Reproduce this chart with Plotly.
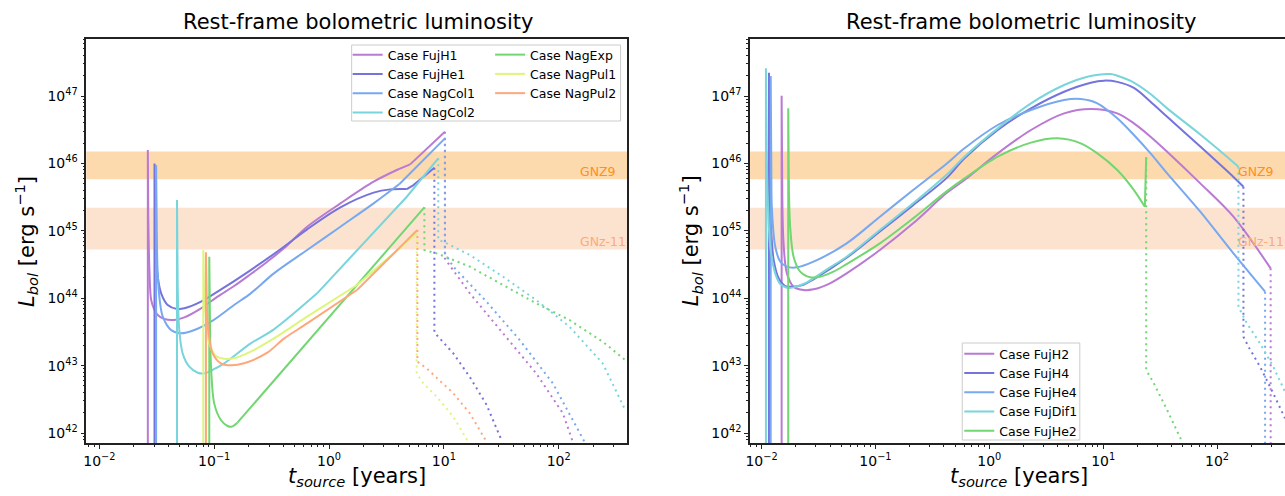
import numpy as np
import plotly.graph_objects as go

W, H = 1285, 496

# ---------------- data: log10(t_source / yr), log10(L_bol / erg s^-1) ----------------
# ---- left panel ----
FUJH1_T = [-1.578, -1.578, -1.574, -1.564, -1.549, -1.520, -1.492, -1.434, -1.347, -1.260, -1.115,
           -0.971, -0.827, -0.682, -0.538, -0.393, -0.191, 0.099, 0.388, 0.590, 0.706, 1.009]
FUJH1_L = [41.0, 46.199, 45.2, 44.418, 43.973, 43.825, 43.751, 43.691, 43.677, 43.716, 43.850,
           44.023, 44.181, 44.359, 44.542, 44.740, 45.061, 45.407, 45.729, 45.902, 45.986, 46.471]
FUJH1_DT = [1.009, 1.009, 1.038, 1.226, 1.515, 1.804, 2.036, 2.122]
FUJH1_DL = [46.471, 44.591, 44.517, 44.072, 43.479, 42.885, 42.292, 41.871]

FUJHE1_T = [-1.520, -1.520, -1.515, -1.506, -1.492, -1.462, -1.405, -1.324, -1.260, -1.115, -0.971,
            -0.682, -0.393, -0.191, 0.099, 0.388, 0.532, 0.677, 0.735, 0.917]
FUJHE1_L = [41.0, 46.0, 45.0, 44.616, 44.319, 44.072, 43.899, 43.840, 43.850, 43.949, 44.097,
            44.418, 44.764, 45.022, 45.348, 45.566, 45.615, 45.620, 45.679, 45.937]
FUJHE1_DT = [0.917, 0.917, 0.937, 1.082, 1.226, 1.371, 1.501]
FUJHE1_DL = [45.937, 43.503, 43.454, 43.182, 42.830, 42.420, 41.896]

NAGCOL1_T = [-1.506, -1.506, -1.500, -1.492, -1.471, -1.448, -1.376, -1.289, -1.173, -1.028, -0.827,
             -0.682, -0.480, -0.191, 0.099, 0.388, 0.613, 1.009]
NAGCOL1_L = [41.0, 45.976, 45.0, 44.369, 43.924, 43.726, 43.528, 43.479, 43.528, 43.652, 43.899,
             44.072, 44.369, 44.715, 45.061, 45.407, 45.694, 46.372]
NAGCOL1_DT = [1.009, 1.009, 1.082, 1.371, 1.660, 1.949, 2.224]
NAGCOL1_DL = [46.372, 44.666, 44.468, 43.949, 43.380, 42.737, 41.871]

NAGCOL2_T = [-1.324, -1.324, -1.318, -1.304, -1.275, -1.217, -1.144, -1.086, -1.028, -0.913, -0.682,
             -0.480, -0.104, 0.243, 0.677, 0.951]
NAGCOL2_L = [41.0, 45.457, 44.2, 43.528, 43.182, 42.984, 42.895, 42.885, 42.925, 43.034, 43.330,
             43.538, 44.072, 44.715, 45.506, 46.075]
NAGCOL2_DT = [0.951, 0.951, 0.995, 1.226, 1.515, 1.804, 2.093, 2.383, 2.579]
NAGCOL2_DL = [46.075, 44.864, 44.839, 44.641, 44.319, 43.973, 43.578, 43.034, 42.341]

NAGEXP_T = [-1.043, -1.043, -1.036, -1.029, -1.000, -0.942, -0.884, -0.849, -0.798, 0.830]
NAGEXP_L = [41.0, 44.616, 43.5, 43.034, 42.440, 42.193, 42.104, 42.094, 42.153, 45.348]
NAGEXP_DT = [0.830, 0.830, 0.937, 1.226, 1.515, 1.804, 2.093, 2.383, 2.579]
NAGEXP_DL = [45.348, 44.715, 44.666, 44.468, 44.196, 43.924, 43.677, 43.355, 43.083]

NAGPUL1_T = [-1.095, -1.095, -1.088, -1.072, -1.043, -0.985, -0.913, -0.827, -0.682, -0.480, -0.191,
             0.243, 0.763]
NAGPUL1_L = [41.0, 44.715, 44.0, 43.726, 43.330, 43.142, 43.103, 43.110, 43.207, 43.404, 43.726,
             44.196, 44.962]
NAGPUL1_DT = [0.763, 0.763, 0.821, 0.937, 1.082, 1.211]
NAGPUL1_DL = [44.962, 42.885, 42.737, 42.539, 42.242, 41.871]

NAGPUL2_T = [-1.072, -1.072, -1.065, -1.052, -1.014, -0.942, -0.855, -0.740, -0.538, -0.393, -0.191,
             0.243, 0.769]
NAGPUL2_L = [41.0, 44.681, 44.0, 43.528, 43.182, 43.034, 43.004, 43.034, 43.192, 43.400, 43.627,
             44.122, 45.012]
NAGPUL2_DT = [0.769, 0.769, 0.850, 1.082, 1.226, 1.371]
NAGPUL2_DL = [45.012, 43.058, 42.959, 42.589, 42.292, 41.871]

# ---- right panel ----
FUJH2_T = [-1.824, -1.824, -1.818, -1.807, -1.778, -1.719, -1.632, -1.544, -1.399, -1.253, -0.961,
           -0.669, -0.378, -0.218, 0.074, 0.366, 0.657, 0.891, 1.124, 1.270, 1.416, 1.562, 1.853,
           2.144, 2.471]
FUJH2_L = [41.0, 47.004, 45.5, 44.814, 44.369, 44.171, 44.122, 44.132, 44.221, 44.369, 44.715,
           45.111, 45.556, 45.754, 46.149, 46.496, 46.743, 46.807, 46.743, 46.594, 46.397, 46.174,
           45.704, 45.210, 44.443]
FUJH2_DT = [2.471, 2.471]
FUJH2_DL = [44.443, 41.0]

FUJH4_T = [-1.935, -1.935, -1.928, -1.918, -1.894, -1.850, -1.792, -1.719, -1.632, -1.544, -1.253,
           -0.961, -0.669, -0.378, -0.218, 0.074, 0.366, 0.657, 0.891, 1.007, 1.124, 1.270, 1.416,
           1.562, 1.853, 2.144, 2.232]
FUJH4_L = [41.0, 47.346, 45.8, 45.061, 44.567, 44.295, 44.181, 44.171, 44.200, 44.280, 44.600,
           44.990, 45.380, 45.778, 46.075, 46.496, 46.817, 47.064, 47.198, 47.228, 47.210, 47.120,
           46.916, 46.693, 46.250, 45.800, 45.655]
FUJH4_DT = [2.232, 2.232, 2.276, 2.378, 2.494, 2.597]
FUJH4_DL = [45.655, 43.429, 43.281, 42.984, 42.589, 42.218]

FUJHE4_T = [-1.920, -1.920, -1.914, -1.909, -1.880, -1.836, -1.778, -1.690, -1.544, -1.253, -0.961,
            -0.669, -0.378, -0.218, 0.074, 0.366, 0.657, 0.803, 0.949, 1.124, 1.270, 1.416, 1.562,
            1.853, 2.144, 2.422]
FUJHE4_L = [41.0, 47.297, 45.8, 45.309, 44.765, 44.542, 44.468, 44.458, 44.542, 44.814, 45.210,
            45.605, 45.991, 46.224, 46.570, 46.792, 46.941, 46.955, 46.891, 46.669, 46.421, 46.149,
            45.853, 45.284, 44.666, 44.097]
FUJHE4_DT = [2.422, 2.422]
FUJHE4_DL = [44.097, 41.0]

FUJDIF1_T = [-1.962, -1.962, -1.955, -1.947, -1.924, -1.880, -1.836, -1.778, -1.719, -1.632, -1.544,
             -1.399, -1.253, -0.961, -0.669, -0.378, -0.218, 0.074, 0.366, 0.657, 0.862, 1.066,
             1.124, 1.270, 1.416, 1.562, 1.853, 2.087, 2.188]
FUJDIF1_L = [41.0, 47.411, 46.2, 45.556, 44.765, 44.369, 44.211, 44.156, 44.161, 44.211, 44.295,
             44.458, 44.616, 45.012, 45.408, 45.828, 46.100, 46.520, 46.891, 47.163, 47.287, 47.326,
             47.300, 47.200, 47.030, 46.817, 46.430, 46.100, 45.951]
FUJDIF1_DT = [2.188, 2.188, 2.262, 2.378, 2.494, 2.597]
FUJDIF1_DL = [45.951, 43.874, 43.627, 43.330, 42.984, 42.613]

FUJHE2_T = [-1.766, -1.766, -1.760, -1.749, -1.719, -1.661, -1.574, -1.486, -1.369, -1.253, -0.961,
            -0.669, -0.378, -0.218, 0.074, 0.366, 0.599, 0.803, 0.949, 1.124, 1.270, 1.366, 1.378]
FUJHE2_L = [41.0, 46.817, 45.6, 45.061, 44.616, 44.394, 44.310, 44.320, 44.394, 44.507, 44.814,
            45.185, 45.581, 45.778, 46.100, 46.308, 46.372, 46.298, 46.149, 45.902, 45.605, 45.358,
            46.090]
FUJHE2_DT = [1.378, 1.378, 1.445, 1.562, 1.693]
FUJHE2_DL = [46.090, 42.935, 42.737, 42.341, 41.871]

# observational bands (L_bol)
GNZ9_BAND = [5.8e45, 1.5e46]
GNZ11_BAND = [5.3e44, 2.2e45]

X_TICKS = [1e-2, 1e-1, 1e0, 1e1, 1e2]
X_TICKTEXT = ["10<sup>\u22122</sup>", "10<sup>\u22121</sup>", "10<sup>0</sup>", "10<sup>1</sup>", "10<sup>2</sup>"]
Y_TICKS = [1e42, 1e43, 1e44, 1e45, 1e46, 1e47]
Y_TICKTEXT = ["10<sup>42</sup>", "10<sup>43</sup>", "10<sup>44</sup>", "10<sup>45</sup>", "10<sup>46</sup>", "10<sup>47</sup>"]

C_PURPLE = "#b97ad3"
C_VIOLET = "#7474dc"
C_CORN = "#78a8ef"
C_TURQ = "#79d5db"
C_GREEN = "#72d672"
C_YELLOW = "#ddf67a"
C_ORANGE = "#ffa77b"

# (name, t, L, dotted t, dotted L, colour, legend, smooth index range)
LEFT = [
    ("Case FujH1", FUJH1_T, FUJH1_L, FUJH1_DT, FUJH1_DL, C_PURPLE, "legend", (2, 20)),
    ("Case FujHe1", FUJHE1_T, FUJHE1_L, FUJHE1_DT, FUJHE1_DL, C_VIOLET, "legend", (2, 17)),
    ("Case NagCol1", NAGCOL1_T, NAGCOL1_L, NAGCOL1_DT, NAGCOL1_DL, C_CORN, "legend", (2, 16)),
    ("Case NagCol2", NAGCOL2_T, NAGCOL2_L, NAGCOL2_DT, NAGCOL2_DL, C_TURQ, "legend", (2, 12)),
    ("Case NagExp", NAGEXP_T, NAGEXP_L, NAGEXP_DT, NAGEXP_DL, C_GREEN, "legend2", (2, 8)),
    ("Case NagPul1", NAGPUL1_T, NAGPUL1_L, NAGPUL1_DT, NAGPUL1_DL, C_YELLOW, "legend2", (2, 11)),
    ("Case NagPul2", NAGPUL2_T, NAGPUL2_L, NAGPUL2_DT, NAGPUL2_DL, C_ORANGE, "legend2", (2, 11)),
]
RIGHT = [
    ("Case FujH2", FUJH2_T, FUJH2_L, FUJH2_DT, FUJH2_DL, C_PURPLE, "legend3", (2, 24)),
    ("Case FujH4", FUJH4_T, FUJH4_L, FUJH4_DT, FUJH4_DL, C_VIOLET, "legend3", (2, 26)),
    ("Case FujHe4", FUJHE4_T, FUJHE4_L, FUJHE4_DT, FUJHE4_DL, C_CORN, "legend3", (2, 25)),
    ("Case FujDif1", FUJDIF1_T, FUJDIF1_L, FUJDIF1_DT, FUJDIF1_DL, C_TURQ, "legend3", (2, 28)),
    ("Case FujHe2", FUJHE2_T, FUJHE2_L, FUJHE2_DT, FUJHE2_DL, C_GREEN, "legend3", (2, 21)),
]

fig = go.Figure()


def seg(t, l, color, xa, ya, shape="linear", name=None, legend=None, dash="solid"):
    fig.add_trace(go.Scatter(x=10 ** np.array(t), y=10 ** np.array(l), mode="lines",
                             line=dict(color=color, width=2, dash=dash, shape=shape,
                                       smoothing=0.9 if shape == "spline" else None),
                             name=name, legend=legend, showlegend=name is not None,
                             xaxis=xa, yaxis=ya, hoverinfo="skip"))


def add_case(case, xa, ya):
    name, t, l, dt, dl, color, leg, (i0, i1) = case
    seg(dt, dl, color, xa, ya, dash="2px,4px")
    seg(t[:i0 + 1], l[:i0 + 1], color, xa, ya)
    if i1 < len(t) - 1:
        seg(t[i1:], l[i1:], color, xa, ya)
    seg(t[i0:i1 + 1], l[i0:i1 + 1], color, xa, ya, shape="spline", name=name, legend=leg)


for c in LEFT:
    add_case(c, "x", "y")
for c in RIGHT:
    add_case(c, "x2", "y2")

# geometry (pixels -> paper)
XL0, XL1 = 81.6 / W, 624.5 / W
XR0, XR1 = 748 / W, 1.0
YB, YT = 1 - 443 / H, 1 - 39 / H


def minor_vals(lo, hi):
    return [k * 10.0 ** n for n in range(lo, hi) for k in range(2, 10)]


axis_common = dict(type="log", showline=True, linecolor="#222", linewidth=1.5, ticks="outside",
                   ticklen=4, tickwidth=1, tickcolor="#222", showgrid=False, zeroline=False,
                   tickfont=dict(size=14, color="black"))
xminor = dict(ticks="outside", ticklen=2, tickwidth=0.8, tickcolor="#222", tickvals=minor_vals(-3, 3), showgrid=False)
yminor = dict(ticks="outside", ticklen=2, tickwidth=0.8, tickcolor="#222", tickvals=minor_vals(41, 48), showgrid=False)

fig.update_layout(
    width=W, height=H, margin=dict(l=0, r=0, t=0, b=0),
    paper_bgcolor="white", plot_bgcolor="white",
    font=dict(family="DejaVu Sans", color="black"),
    xaxis=dict(axis_common, domain=[XL0, XL1], range=[-2.114, 2.595], anchor="y", mirror=True,
               tickvals=X_TICKS, ticktext=X_TICKTEXT, minor=xminor),
    yaxis=dict(axis_common, domain=[YB, YT], range=[41.852, 47.846], anchor="x", mirror=True,
               tickvals=Y_TICKS, ticktext=Y_TICKTEXT, minor=yminor),
    xaxis2=dict(axis_common, domain=[XR0, XR1], range=[-2.101, 2.597], anchor="y2", mirror=True,
                tickvals=X_TICKS, ticktext=X_TICKTEXT, minor=xminor),
    yaxis2=dict(axis_common, domain=[YB, YT], range=[41.852, 47.846], anchor="x2", mirror=False,
                tickvals=Y_TICKS, ticktext=Y_TICKTEXT, minor=yminor),
)

legend_common = dict(bgcolor="rgba(0,0,0,0)", borderwidth=0, font=dict(size=12.5, color="black"),
                     itemwidth=30, xanchor="left", yanchor="top", traceorder="normal")
fig.update_layout(
    legend=dict(legend_common, x=344 / W, y=1 - 40 / H),
    legend2=dict(legend_common, x=487 / W, y=1 - 40 / H),
    legend3=dict(legend_common, x=958 / W, y=1 - 339 / H),
)

shapes = []
for xr, yr in (("x", "y"), ("x2", "y2")):
    shapes.append(dict(type="rect", xref=xr + " domain", yref=yr, x0=0, x1=1, y0=GNZ9_BAND[0], y1=GNZ9_BAND[1],
                       fillcolor="#fdd9ae", line=dict(width=0), layer="below"))
    shapes.append(dict(type="rect", xref=xr + " domain", yref=yr, x0=0, x1=1, y0=GNZ11_BAND[0], y1=GNZ11_BAND[1],
                       fillcolor="#fce3cf", line=dict(width=0), layer="below"))
# legend frames
shapes.append(dict(type="rect", xref="paper", yref="paper", x0=348 / W, x1=618 / W, y0=1 - 121 / H, y1=1 - 45 / H,
                   fillcolor="white", line=dict(color="#cccccc", width=1), layer="below"))
shapes.append(dict(type="rect", xref="paper", yref="paper", x0=961 / W, x1=1079 / W, y0=1 - 440 / H, y1=1 - 343 / H,
                   fillcolor="white", line=dict(color="#cccccc", width=1), layer="below"))
fig.update_layout(shapes=shapes)

ann = []
for cx in (354, 1020):
    ann.append(dict(text="Rest-frame bolometric luminosity", x=cx / W, y=1 - 22 / H, xref="paper", yref="paper",
                    xanchor="center", yanchor="middle", showarrow=False, font=dict(size=21)))
for cx in (353, 1018):
    ann.append(dict(text="<i>t</i><sub><i>source</i></sub> [years]", x=cx / W, y=1 - 477 / H, xref="paper",
                    yref="paper", xanchor="center", yanchor="middle", showarrow=False, font=dict(size=21)))
for cx in (21, 688):
    ann.append(dict(text="<i>L</i><sub><i>bol</i></sub> [erg s<sup>\u22121</sup>]", x=cx / W, y=(YB + YT) / 2,
                    xref="paper", yref="paper", xanchor="center", yanchor="middle", textangle=-90,
                    showarrow=False, font=dict(size=21)))
for xr, yr in (("x", "y"), ("x2", "y2")):
    ann.append(dict(text="GNZ9", x=2.17, y=45.887, xref=xr, yref=yr, xanchor="left", yanchor="middle",
                    showarrow=False, font=dict(size=12.5, color="#ff9020")))
    ann.append(dict(text="GNz-11", x=2.17, y=44.849, xref=xr, yref=yr, xanchor="left", yanchor="middle",
                    showarrow=False, font=dict(size=12.5, color="#fcaa78")))
fig.update_layout(annotations=ann)

fig.write_html("out.html")
